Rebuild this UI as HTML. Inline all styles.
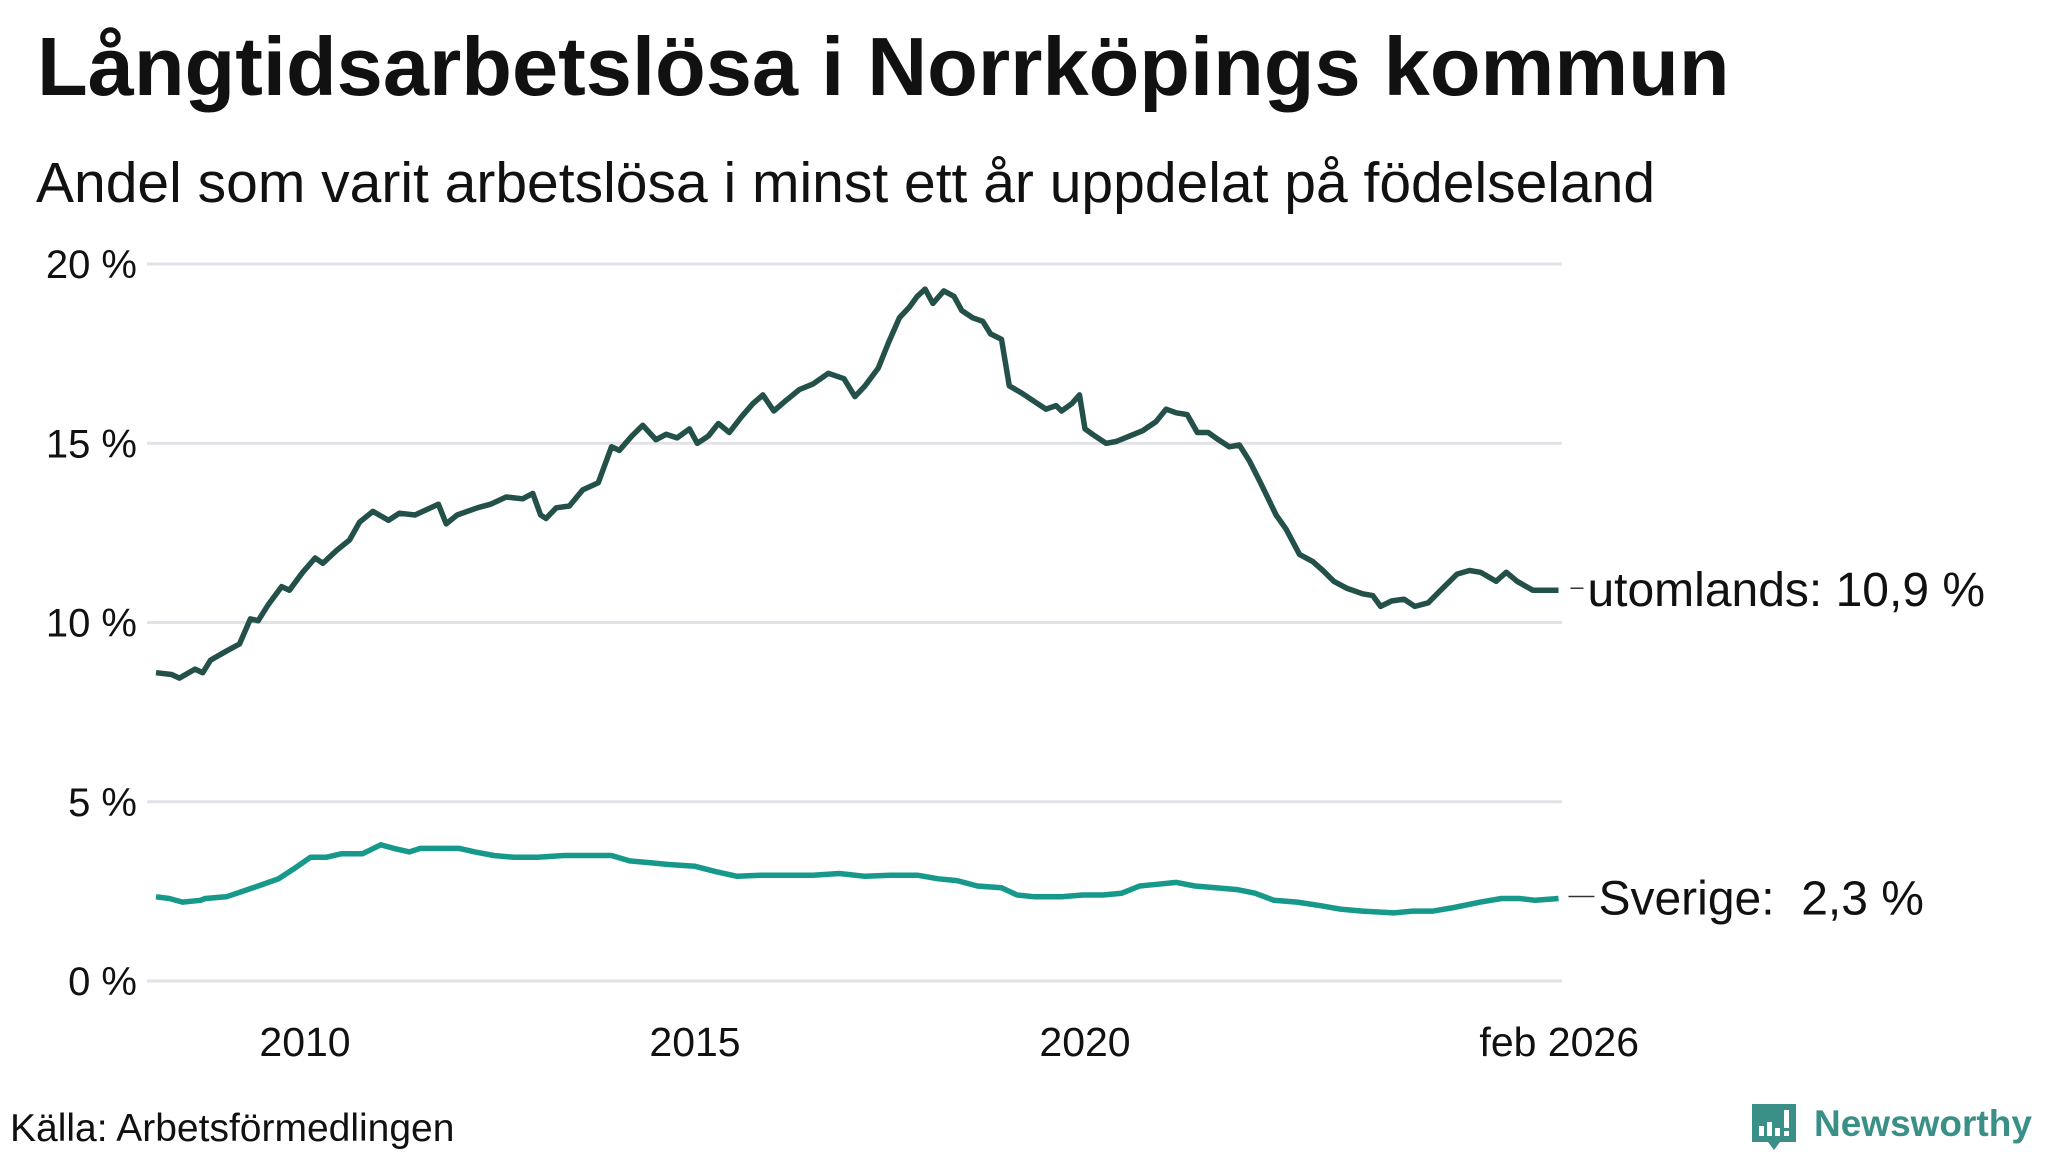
<!DOCTYPE html>
<html><head><meta charset="utf-8"><style>
html,body{margin:0;padding:0;background:#fff;}
svg{display:block;font-family:"Liberation Sans",sans-serif;}
</style></head><body>
<svg id="chart" width="2048" height="1152" viewBox="0 0 2048 1152">
<text x="37" y="95" font-size="83" font-weight="bold" fill="#111">Långtidsarbetslösa i Norrköpings kommun</text>
<text x="36" y="202" font-size="57" fill="#111">Andel som varit arbetslösa i minst ett år uppdelat på födelseland</text>
<g id="grid"></g>
<g id="yticks"></g>
<g id="xticks"></g>
<g id="lines"></g>
<g id="labels"></g>
<text x="10" y="1141" font-size="39" fill="#111">Källa: Arbetsförmedlingen</text>
<g>
<path d="M1752 1104 h44 v38 h-16 l-6 8 l-6 -8 h-16 z" fill="#3a8f86"/>
<rect x="1759" y="1126" width="5" height="10" fill="#fff"/>
<rect x="1767" y="1122" width="5" height="14" fill="#fff"/>
<rect x="1775" y="1128" width="5" height="8" fill="#fff"/>
<rect x="1784" y="1110" width="5" height="18" fill="#fff"/>
<rect x="1784" y="1131" width="5" height="5" fill="#fff"/>
<text x="1814" y="1136" font-size="37" font-weight="bold" fill="#3a8f86">Newsworthy</text>
</g>
</svg>
<script>
const yTickValues=[0,5,10,15,20];
const yTickLabels=["0 %","5 %","10 %","15 %","20 %"];
const xTickValues=[2010,2015,2020,2026.08];
const xTickLabels=["2010","2015","2020","feb 2026"];
const utomDates=[2008.09,2008.29,2008.39,2008.59,2008.69,2008.79,2008.99,2009.16,2009.30,2009.40,2009.53,2009.70,2009.80,2009.97,2010.13,2010.23,2010.40,2010.57,2010.70,2010.87,2011.07,2011.21,2011.41,2011.71,2011.81,2011.95,2012.21,2012.38,2012.58,2012.79,2012.92,2013.02,2013.09,2013.22,2013.39,2013.56,2013.76,2013.93,2014.03,2014.19,2014.33,2014.50,2014.63,2014.77,2014.93,2015.03,2015.17,2015.30,2015.44,2015.60,2015.74,2015.87,2016.01,2016.17,2016.34,2016.51,2016.71,2016.91,2017.05,2017.18,2017.35,2017.48,2017.62,2017.75,2017.85,2017.95,2018.05,2018.19,2018.32,2018.42,2018.56,2018.69,2018.79,2018.93,2019.03,2019.19,2019.36,2019.50,2019.63,2019.70,2019.83,2019.93,2020.00,2020.13,2020.27,2020.40,2020.57,2020.74,2020.91,2021.04,2021.17,2021.31,2021.44,2021.58,2021.71,2021.85,2021.98,2022.11,2022.25,2022.45,2022.58,2022.75,2022.92,2023.05,2023.19,2023.36,2023.56,2023.69,2023.79,2023.93,2024.09,2024.23,2024.40,2024.56,2024.77,2024.93,2025.07,2025.27,2025.40,2025.54,2025.74,2025.91,2026.07];
const utomValues=[8.6,8.55,8.45,8.7,8.6,8.95,9.2,9.4,10.1,10.05,10.5,11.0,10.9,11.4,11.8,11.65,12.0,12.3,12.8,13.1,12.85,13.05,13.0,13.3,12.75,13.0,13.2,13.3,13.5,13.45,13.6,13.0,12.9,13.2,13.25,13.7,13.9,14.9,14.8,15.2,15.5,15.1,15.25,15.15,15.4,15.0,15.2,15.55,15.3,15.75,16.1,16.35,15.9,16.2,16.5,16.65,16.95,16.8,16.3,16.6,17.1,17.8,18.5,18.8,19.1,19.3,18.9,19.25,19.1,18.7,18.5,18.4,18.05,17.9,16.6,16.4,16.15,15.95,16.05,15.9,16.1,16.35,15.4,15.2,15.0,15.05,15.2,15.35,15.6,15.95,15.85,15.8,15.3,15.3,15.1,14.9,14.95,14.5,13.9,13.0,12.6,11.9,11.7,11.45,11.15,10.95,10.8,10.75,10.45,10.6,10.65,10.45,10.55,10.9,11.35,11.45,11.4,11.15,11.4,11.15,10.9,10.9,10.9];
const sveDates=[2008.09,2008.26,2008.43,2008.66,2008.72,2008.99,2009.13,2009.40,2009.66,2009.87,2010.07,2010.27,2010.47,2010.74,2010.97,2011.14,2011.34,2011.48,2011.74,2011.98,2012.18,2012.42,2012.68,2012.98,2013.32,2013.66,2013.93,2014.16,2014.43,2014.66,2015.00,2015.27,2015.54,2015.84,2016.17,2016.51,2016.85,2017.18,2017.52,2017.85,2018.12,2018.36,2018.62,2018.93,2019.13,2019.36,2019.70,2019.97,2020.23,2020.47,2020.70,2020.94,2021.17,2021.41,2021.68,2021.95,2022.18,2022.42,2022.72,2023.02,2023.29,2023.56,2023.96,2024.20,2024.46,2024.73,2025.07,2025.34,2025.57,2025.77,2026.07];
const sveValues=[2.35,2.3,2.2,2.25,2.3,2.35,2.45,2.65,2.85,3.15,3.45,3.45,3.55,3.55,3.8,3.7,3.6,3.7,3.7,3.7,3.6,3.5,3.45,3.45,3.5,3.5,3.5,3.35,3.3,3.25,3.2,3.05,2.92,2.95,2.95,2.95,3.0,2.92,2.95,2.95,2.85,2.8,2.65,2.6,2.4,2.35,2.35,2.4,2.4,2.45,2.65,2.7,2.75,2.65,2.6,2.55,2.45,2.25,2.2,2.1,2.0,1.95,1.9,1.95,1.95,2.05,2.2,2.3,2.3,2.25,2.3];
const NS='http://www.w3.org/2000/svg';
function xScale(t){return 305+(t-2010)*78.0;}
function yScale(v){return 981-v*35.85;}
const grid=document.getElementById('grid'),yt=document.getElementById('yticks'),xt=document.getElementById('xticks'),lines=document.getElementById('lines'),labels=document.getElementById('labels');
yTickValues.forEach((v,i)=>{
 const l=document.createElementNS(NS,'line');
 l.setAttribute('x1',147);l.setAttribute('x2',1562);l.setAttribute('y1',yScale(v));l.setAttribute('y2',yScale(v));
 l.setAttribute('stroke','#e2e2e8');l.setAttribute('stroke-width',3);
 
 
 grid.appendChild(l);
 const t=document.createElementNS(NS,'text');
 t.setAttribute('x',137);t.setAttribute('y',yScale(v)+14);t.setAttribute('text-anchor','end');t.setAttribute('font-size',40);t.setAttribute('fill','#111');
 t.textContent=yTickLabels[i];
 
 
 yt.appendChild(t);
});
xTickValues.forEach((v,i)=>{
 const t=document.createElementNS(NS,'text');
 t.setAttribute('x',xScale(v));t.setAttribute('y',1056);t.setAttribute('text-anchor','middle');t.setAttribute('font-size',41);t.setAttribute('fill','#111');
 t.textContent=xTickLabels[i];
 
 
 xt.appendChild(t);
});
function drawLine(dates,vals,color,name){
 const p=document.createElementNS(NS,'path');
 p.setAttribute('d',dates.map((d,i)=>(i?'L':'M')+xScale(d).toFixed(1)+' '+yScale(vals[i]).toFixed(1)).join(' '));
 p.setAttribute('fill','none');p.setAttribute('stroke',color);p.setAttribute('stroke-width',5.5);p.setAttribute('stroke-linejoin','round');
 
 
 lines.appendChild(p);
}
drawLine(utomDates,utomValues,'#23514a','line-utomlands');
drawLine(sveDates,sveValues,'#16998a','line-sverige');
function addLabel(dates,vals,text,gap,dx,name){
 const lx=xScale(dates[dates.length-1]),ly=yScale(vals[vals.length-1]);
 const l=document.createElementNS(NS,'line');
 l.setAttribute('x1',lx+gap);l.setAttribute('x2',lx+dx-4);l.setAttribute('y1',ly-2);l.setAttribute('y2',ly-2);
 l.setAttribute('stroke','#333');l.setAttribute('stroke-width',1.5);
 
 
 labels.appendChild(l);
 const t=document.createElementNS(NS,'text');
 t.setAttribute('x',lx+dx);t.setAttribute('y',ly+16);t.setAttribute('font-size',48);t.setAttribute('fill','#111');
 t.style.whiteSpace='pre';
 t.textContent=text;
 
 
 labels.appendChild(t);
}
addLabel(utomDates,utomValues,'utomlands: 10,9 %',12,29,'label-utomlands');
addLabel(sveDates,sveValues,'Sverige:  2,3 %',10,40,'label-sverige');
</script>
</body></html>
